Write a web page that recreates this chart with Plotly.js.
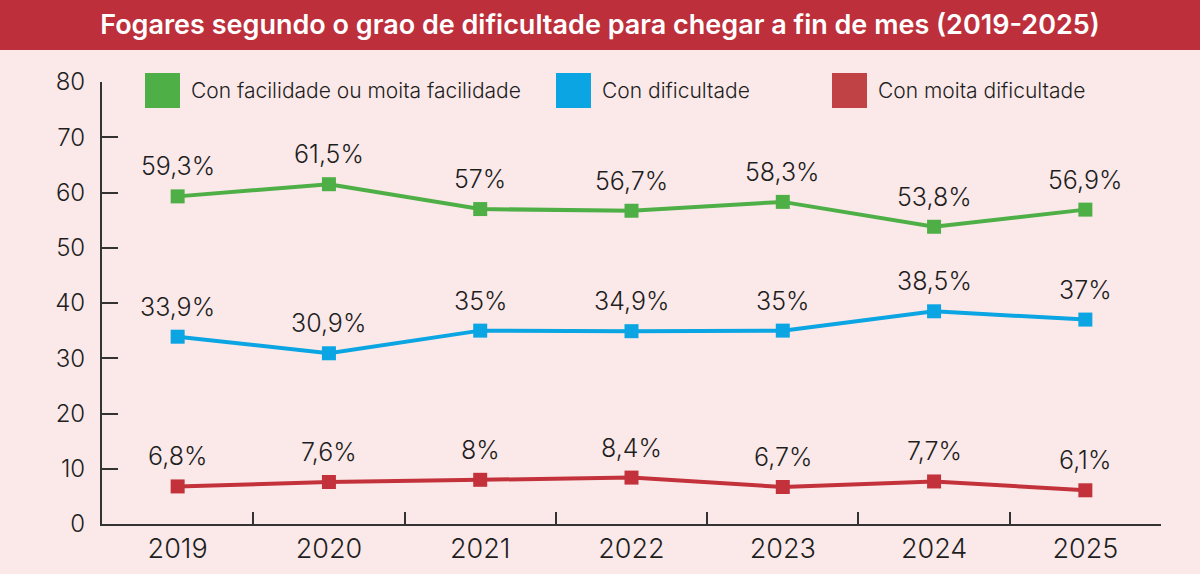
<!DOCTYPE html>
<html>
<head>
<meta charset="utf-8">
<script src="https://cdn.plot.ly/plotly-3.0.1.min.js"></script>
<style>
  html, body { margin: 0; padding: 0; background: #fbe9e9; }
  #chart { width: 1200px; height: 574px; }
</style>
</head>
<body>
<div id="chart"></div>
<script>
// Households by degree of difficulty reaching the end of the month
const years = ['2019', '2020', '2021', '2022', '2023', '2024', '2025'];
const easyValues = [59.3, 61.5, 57, 56.7, 58.3, 53.8, 56.9];
const difficultValues = [33.9, 30.9, 35, 34.9, 35, 38.5, 37];
const veryDifficultValues = [6.8, 7.6, 8, 8.4, 6.7, 7.7, 6.1];
const seriesNames = ['Con facilidade ou moita facilidade', 'Con dificultade', 'Con moita dificultade'];
const yTicks = [0, 10, 20, 30, 40, 50, 60, 70, 80];

const colors = ['#4eaf46', '#0aa5e2', '#c3323b'];
const legendColors = ['#4eaf46', '#0aa5e2', '#c04244'];
const seriesValues = [easyValues, difficultValues, veryDifficultValues];

const W = 1200, H = 574;
const M = { l: 102, r: 39, t: 82, b: 50 };
const plotW = W - M.l - M.r, plotH = H - M.t - M.b;
// pixel position -> paper coordinates
const px = x => (x - M.l) / plotW;
const py = y => (H - M.b - y) / plotH;

const FONT = 'Inter, Roboto, sans-serif';
const labelFont = { family: FONT, size: 25, color: '#1e1e1e', weight: 300 };

const traces = seriesValues.map((vals, i) => ({
  type: 'scatter',
  mode: 'lines+markers',
  x: years,
  y: vals,
  name: seriesNames[i],
  line: { color: colors[i], width: 4 },
  marker: { symbol: 'square', size: 14, color: colors[i] },
  showlegend: false,
  hoverinfo: 'x+y'
}));

const fmt = v => String(v).replace('.', ',') + '%';

// Value labels above each point (x given as category index)
const annotations = [];
seriesValues.forEach(vals => {
  vals.forEach((v, j) => {
    annotations.push({
      x: j, y: v, xref: 'x', yref: 'y',
      text: fmt(v), showarrow: false,
      yanchor: 'middle', yshift: 30,
      font: labelFont
    });
  });
});

// Legend: large swatches with labels
const legendItems = [
  { sx: 145, tx: 189 },
  { sx: 556, tx: 600 },
  { sx: 832, tx: 876 }
];
const shapes = [
  // title band
  { type: 'rect', xref: 'paper', yref: 'paper', x0: px(0), x1: px(W), y0: py(50), y1: py(0),
    fillcolor: '#bd2f3b', line: { width: 0 }, layer: 'below' }
];
legendItems.forEach((it, i) => {
  shapes.push({ type: 'rect', xref: 'paper', yref: 'paper',
    x0: px(it.sx), x1: px(it.sx + 35), y0: py(108), y1: py(73),
    fillcolor: legendColors[i], line: { width: 0 } });
  annotations.push({ xref: 'paper', yref: 'paper', x: px(it.tx), y: py(90.5),
    xanchor: 'left', yanchor: 'middle', showarrow: false, text: seriesNames[i],
    font: { family: FONT, size: 21, color: '#1e1e1e', weight: 300 } });
});

const layout = {
  width: W, height: H,
  margin: M,
  paper_bgcolor: '#fbe9e9',
  plot_bgcolor: '#fbe9e9',
  title: {
    text: 'Fogares segundo o grao de dificultade para chegar a fin de mes (2019-2025)',
    font: { family: 'Inter, "Open Sans", sans-serif', size: 27, color: '#ffffff', weight: 600 },
    x: 0.5, xref: 'container', xanchor: 'center',
    y: 1 - 25 / H, yref: 'container', yanchor: 'middle'
  },
  xaxis: {
    type: 'category',
    categoryorder: 'array', categoryarray: years,
    range: [-0.5, 6.5],
    showline: true, linecolor: '#333333', linewidth: 2,
    ticks: 'inside', tickson: 'boundaries', ticklen: 12, tickwidth: 2, tickcolor: '#333333',
    tickfont: { family: FONT, size: 27, color: '#1e1e1e', weight: 300 },
    showgrid: false, zeroline: false, fixedrange: true
  },
  yaxis: {
    range: [0, 80],
    tickvals: yTicks,
    ticktext: yTicks.map(String),
    showline: true, linecolor: '#333333', linewidth: 2,
    ticks: 'inside', ticklen: 16, tickwidth: 2, tickcolor: '#333333',
    ticklabelstandoff: 10,
    tickfont: { family: FONT, size: 24, color: '#1e1e1e', weight: 300 },
    showgrid: false, zeroline: false, fixedrange: true
  },
  shapes: shapes,
  annotations: annotations,
  hovermode: 'closest'
};

Plotly.newPlot('chart', traces, layout, { displayModeBar: false, responsive: false });
</script>
</body>
</html>
